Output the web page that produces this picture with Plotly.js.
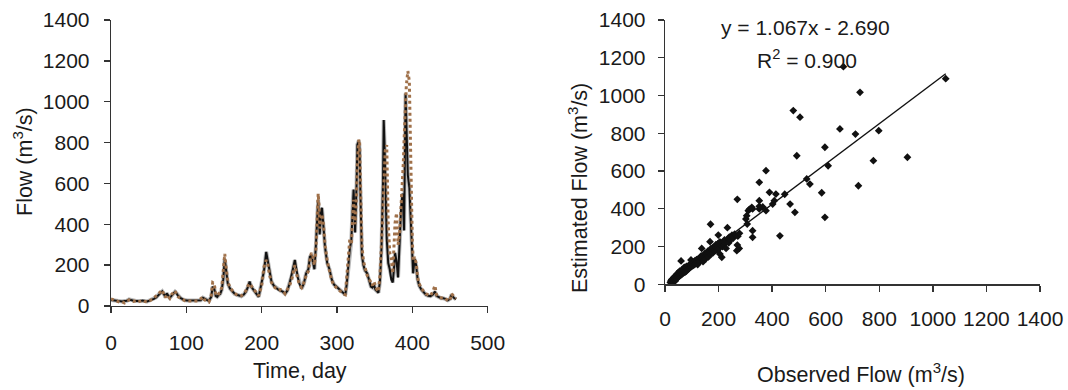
<!DOCTYPE html>
<html>
<head>
<meta charset="utf-8">
<script src="https://cdn.plot.ly/plotly-3.0.1.min.js"></script>
<style>html,body{margin:0;padding:0;background:#fff;}#chart{width:1068px;height:390px;}</style>
</head>
<body>
<div id="chart"></div>
<script>
// ---- Time series (left panel) ----
const days = [0,3,6,9,12,15,18,21,24,27,30,33,36,39,42,45,48,51,54,57,60,63,66,68,70,72,74,76,78,80,83,85,87,89,92,95,98,101,105,110,115,119,122,124,127,130,133,135,137,139,141,143,145,147,149,151,153,155,158,161,164,167,170,173,176,179,182,184,186,188,190,193,196,198,200,203,206,208,210,213,216,219,222,225,228,231,234,237,240,242,244,246,248,250,253,256,259,262,264,266,268,270,272,274,275,276,277,279,280,282,284,287,290,293,296,299,302,305,308,311,313,315,317,319,321,322,323,324,326,327,329,330,331,333,335,337,340,343,345,347,349,351,353,355,357,359,361,362,363,364,366,368,370,372,374,376,377,379,381,383,385,387,388,389,390,391,392,393,394,396,398,399,400,401,403,405,407,409,412,415,418,421,424,427,430,432,435,438,441,444,447,450,452,455,458];
const observed = [30,28,27,25,24,22,25,26,32,28,26,25,24,25,27,24,22,26,30,35,42,55,68,72,60,45,62,50,40,48,60,70,62,50,40,32,28,27,27,27,27,28,40,35,30,25,45,95,85,50,45,55,60,80,130,230,160,110,85,70,60,55,50,48,55,70,95,120,95,85,75,60,45,80,110,170,265,220,170,120,100,90,80,75,70,60,75,110,150,190,225,170,140,110,85,110,160,180,240,250,210,180,300,510,520,420,350,470,480,390,290,210,180,130,105,95,85,75,65,55,110,200,280,320,520,570,480,360,600,790,810,760,560,250,200,175,160,120,95,90,105,80,70,65,120,280,600,910,800,620,330,210,180,130,115,200,260,220,140,300,480,550,420,370,700,1040,900,800,640,580,420,320,200,160,230,200,130,100,80,65,55,50,48,55,70,50,42,38,38,35,28,35,55,40,33];
const estimated = [35,30,28,22,18,20,15,22,30,25,22,26,20,24,28,22,20,24,30,40,50,62,75,78,55,42,55,45,38,55,70,75,55,45,38,30,26,25,25,25,25,35,45,30,25,20,50,115,110,60,50,60,70,90,160,255,180,120,90,75,62,55,50,50,60,75,100,110,100,90,80,65,50,75,100,190,225,210,160,115,95,85,78,80,75,60,80,100,130,175,200,160,130,105,90,115,150,170,220,260,240,200,280,480,550,500,380,420,450,400,300,220,175,125,100,90,80,70,60,55,140,250,330,300,450,520,430,400,560,700,815,800,620,300,220,190,150,130,110,100,120,95,80,70,150,300,500,650,720,760,788,400,260,230,160,357,406,455,300,350,490,570,700,812,950,1000,1080,1120,1150,1100,800,500,320,220,240,210,140,110,85,70,60,55,50,70,100,55,45,40,40,38,25,30,60,45,35];

// ---- Scatter (right panel) ----
const observedFlow = [20,22,25,25,28,30,30,32,35,35,38,40,40,42,45,45,48,50,50,52,55,55,58,60,60,62,65,65,68,70,72,72,75,78,80,80,82,85,88,90,92,95,97,98,100,102,105,108,110,112,115,118,120,122,125,128,130,132,135,137,138,140,142,145,148,150,152,155,158,160,162,165,168,168,170,170,172,175,178,180,182,185,188,190,192,195,198,199,200,202,205,205,208,210,212,215,218,220,222,225,228,230,233,235,238,240,245,250,255,260,268,270,270,272,277,278,302,305,307,311,315,324,327,327,327,352,352,352,352,365,377,377,390,402,408,414,429,447,467,479,485,492,504,529,541,585,597,597,609,653,666,711,722,728,778,798,905,1048];
const estimatedFlow = [10,18,15,25,20,12,30,22,28,40,18,35,45,30,40,55,35,50,62,42,55,70,48,60,124,75,55,68,80,62,72,90,65,82,70,95,88,78,95,85,105,90,129,100,95,110,100,118,105,125,110,130,115,105,135,120,140,125,150,190,130,145,120,155,140,165,135,160,150,175,145,170,226,180,318,160,190,175,165,195,180,200,185,210,195,180,215,261,200,190,160,225,205,215,143,200,225,210,235,220,190,230,300,240,220,250,235,260,245,265,178,208,450,255,190,270,346,363,319,390,397,408,284,249,399,540,443,399,413,410,602,390,487,425,443,478,257,477,425,920,381,681,885,558,531,485,726,355,628,823,1153,796,522,1017,655,814,673,1089];
const fitSlope = 1.067;
const fitIntercept = -2.690;
const fitRange = [20, 1048];

const xTicksLeft = [0,100,200,300,400,500];
const yTicks = [0,200,400,600,800,1000,1200,1400];
const xTicksRight = [0,200,400,600,800,1000,1200,1400];

const W = 1068, H = 390;
const px = v => v / W;
const py = v => 1 - v / H;
const FONT = {family: 'Liberation Sans, Arial, sans-serif', size: 21, color: '#1a1a1a'};
const TFONT = {family: 'Liberation Sans, Arial, sans-serif', size: 21.5, color: '#1a1a1a'};

const traces = [
  {x: days, y: observed, xaxis: 'x', yaxis: 'y', type: 'scatter', mode: 'lines',
   line: {color: '#b8b8b8', width: 4}, hoverinfo: 'skip', showlegend: false},
  {x: days, y: observed, xaxis: 'x', yaxis: 'y', type: 'scatter', mode: 'lines',
   line: {color: '#111111', width: 2}, name: 'Observed', showlegend: false},
  {x: days, y: estimated, xaxis: 'x', yaxis: 'y', type: 'scatter', mode: 'lines',
   line: {color: '#a0714a', width: 3, dash: '3px,3px'}, name: 'Estimated', showlegend: false},
  {x: observedFlow, y: estimatedFlow, xaxis: 'x2', yaxis: 'y2', type: 'scatter', mode: 'markers',
   marker: {symbol: 'diamond', size: 6, color: '#111111'}, showlegend: false},
  {x: fitRange, y: fitRange.map(v => fitSlope * v + fitIntercept), xaxis: 'x2', yaxis: 'y2',
   type: 'scatter', mode: 'lines', line: {color: '#111111', width: 1.4}, showlegend: false}
];

const axisCommon = {
  showgrid: false, zeroline: false, showline: true, linecolor: '#333', linewidth: 1.3,
  ticks: 'outside', ticklen: 6, tickcolor: '#333', tickwidth: 1.3,
  tickfont: FONT, tickmode: 'array', fixedrange: true
};

const layout = {
  width: W, height: H,
  margin: {l: 0, r: 0, t: 0, b: 0},
  paper_bgcolor: '#fff', plot_bgcolor: '#fff',
  font: FONT,
  showlegend: false,
  xaxis: Object.assign({}, axisCommon, {domain: [px(111), px(487.7)], range: [0, 500],
    tickvals: xTicksLeft, ticktext: xTicksLeft.map(String), anchor: 'y', ticklabelstandoff: 11}),
  yaxis: Object.assign({}, axisCommon, {domain: [py(306), py(20)], range: [0, 1400],
    tickvals: yTicks, ticktext: yTicks.map(String), anchor: 'x', ticklabelstandoff: 10}),
  xaxis2: Object.assign({}, axisCommon, {domain: [px(665), px(1040)], range: [0, 1400],
    tickvals: xTicksRight, ticktext: xTicksRight.map(String), anchor: 'y2', ticklabelstandoff: 9}),
  yaxis2: Object.assign({}, axisCommon, {domain: [py(284.3), py(20)], range: [0, 1400],
    tickvals: yTicks, ticktext: yTicks.map(String), anchor: 'x2', ticklabelstandoff: 8}),
  annotations: [
    {text: 'Time, day', xref: 'paper', yref: 'paper', x: px(300), y: py(371), showarrow: false,
     font: TFONT, xanchor: 'center', yanchor: 'middle'},
    {text: 'Flow (m<sup>3</sup>/s)', xref: 'paper', yref: 'paper', x: px(23), y: py(162), showarrow: false,
     font: TFONT, textangle: -90, xanchor: 'center', yanchor: 'middle'},
    {text: 'Observed Flow (m<sup>3</sup>/s)', xref: 'paper', yref: 'paper', x: px(861), y: py(373), showarrow: false,
     font: TFONT, xanchor: 'center', yanchor: 'middle'},
    {text: 'Estimated Flow (m<sup>3</sup>/s)', xref: 'paper', yref: 'paper', x: px(578), y: py(188), showarrow: false,
     font: TFONT, textangle: -90, xanchor: 'center', yanchor: 'middle'},
    {text: 'y = 1.067x - 2.690', xref: 'paper', yref: 'paper', x: px(805), y: py(28), showarrow: false,
     font: FONT, xanchor: 'center', yanchor: 'middle'},
    {text: 'R<sup>2</sup> = 0.900', xref: 'paper', yref: 'paper', x: px(807), y: py(59), showarrow: false,
     font: FONT, xanchor: 'center', yanchor: 'middle'}
  ]
};

Plotly.newPlot('chart', traces, layout, {displayModeBar: false, staticPlot: true});
</script>
</body>
</html>
